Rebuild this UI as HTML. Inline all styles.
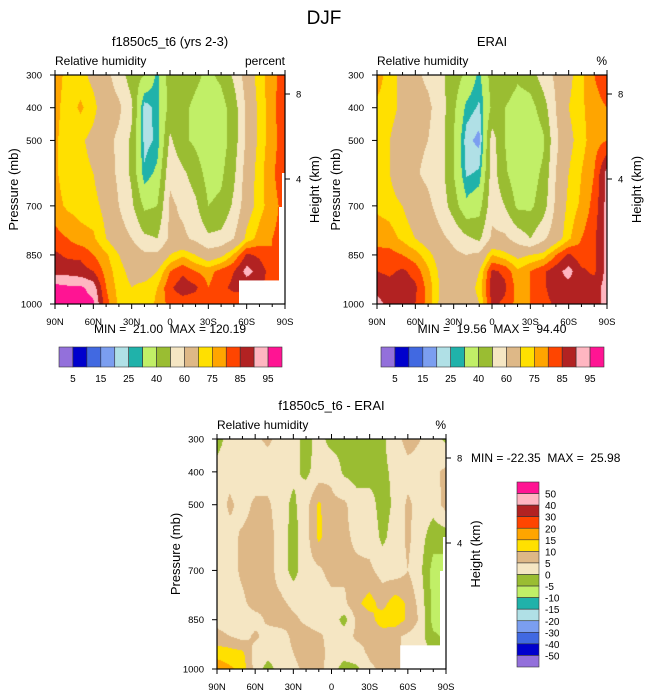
<!DOCTYPE html>
<html><head><meta charset="utf-8">
<style>
body{margin:0;background:#fff;width:648px;height:694px;overflow:hidden;position:relative;font-family:"Liberation Sans",sans-serif}
canvas{position:absolute}
svg{position:absolute;left:0;top:0}
text{font-family:"Liberation Sans",sans-serif;fill:#000;white-space:pre}
</style></head><body>
<canvas id="c1" style="left:55px;top:75px" width="230" height="229"></canvas>
<canvas id="c2" style="left:377px;top:75px" width="230" height="229"></canvas>
<canvas id="c3" style="left:217px;top:439px" width="229" height="230"></canvas>
<svg id="ov" width="648" height="694"></svg>
<script>
// ---- data ----
const lats = ["90N","80N","70N","60N","50N","40N","30N","20N","10N","0","10S","20S","30S","40S","50S","60S","70S","80S","90S"];
const pressureLevels = [300,400,500,600,700,800,850,900,950,1000];
const latTickLabels = ["90N","60N","30N","0","30S","60S","90S"];
const pTickLabels = [300,400,500,700,850,1000];
const rhLevels = [5,10,15,20,25,30,40,50,60,70,75,80,85,90,95];
const rhLabels = ["5","15","25","40","60","75","85","95"];
const diffLevels = [-50,-40,-30,-20,-15,-10,-5,0,5,10,15,20,30,40,50];
const diffLabels = ["50","40","30","20","15","10","5","0","-5","-10","-15","-20","-30","-40","-50"];
const palette = ["#9370db","#0000cd","#4169e1","#7b9ef0","#b0e0e6","#20b2aa","#c1ef67","#9abd32","#f5e6c3","#deb887","#ffe000","#ffa500","#ff4500","#b22222","#ffb6c1","#ff1493"];
const modelRH = [
 [78,73,72,68,63,55,45,40,28,45,45,42,38,42,52,65,73,78,83],
 [77,72,76,72,65,62,52,22,27,44,42,38,35,36,45,62,72,78,85],
 [76,72,71,68,63,58,48,23,26,52,42,38,33,35,45,62,72,78,83],
 [76,72,72,70,65,58,48,26,32,58,52,45,36,38,48,65,73,79,84],
 [77,74,73,72,68,60,52,38,40,62,58,52,40,42,52,66,73,78,82],
 [82,80,77,76,70,65,60,52,50,62,62,58,52,53,60,72,77,80,82],
 [86,84,84,80,76,70,66,62,62,70,74,70,65,68,76,86,84,80,82],
 [88,88,87,85,78,72,68,66,70,80,84,80,78,82,85,92,88,82,82],
 [97,96,96,93,80,73,70,72,75,84,88,86,80,84,86,86,86,82,82],
 [97,97,97,96,82,74,70,72,76,82,82,82,82,83,82,82,82,82,82]];
const eraiRH = [
 [77,73,68,62,58,52,45,38,28,45,48,42,45,55,62,68,74,80,84],
 [74,73,68,63,62,55,42,28,24,42,40,35,36,45,60,70,74,78,80],
 [72,70,64,62,60,54,40,22,18,55,40,30,32,38,58,68,73,78,80],
 [71,70,63,61,58,54,40,24,26,55,42,33,35,42,60,70,75,80,92],
 [74,73,70,65,62,56,45,32,36,57,50,38,38,45,62,72,76,82,92],
 [78,77,74,70,66,62,58,52,48,62,62,56,50,58,66,74,80,84,92],
 [82,82,80,77,72,66,62,60,62,75,72,68,70,72,80,86,82,84,92],
 [85,84,86,83,76,68,65,64,70,86,84,76,80,84,88,92,86,84,92],
 [88,87,88,86,78,69,66,66,72,88,86,78,80,84,88,88,86,88,92],
 [92,88,87,85,78,68,64,64,70,86,84,78,80,83,86,86,85,88,92]];
const diffRH = [
 [-2,2,3,4,6,3,2,-2,2,-2,-2,-3,-2,-1,3,7,5,2,-1],
 [2,3,2,2,2,2,1,-1,2,4,-1,-2,-2,-1,1,3,3,4,6],
 [2,6,3,6,6,2,-1,3,11,6,6,2,2,-2,1,6,3,2,7],
 [1,3,6,7,7,3,-2,3,11,7,6,4,3,-1,2,6,2,-3,-3],
 [1,3,6,8,7,3,-2,3,4,7,6,6,6,3,2,5,1,-7,-7],
 [2,3,4,7,6,6,4,3,2,3,4,9,12,8,13,9,3,-7,-8],
 [4,3,2,3,6,7,6,4,2,3,-2,6,8,13,13,9,4,-7,-8],
 [6,5,3,6,3,3,6,7,6,3,3,6,6,7,6,4,2,-4,-6],
 [13,12,11,3,2,3,5,7,7,3,2,3,6,7,6,4,2,0,0],
 [18,16,13,3,-2,2,4,6,7,2,-2,-1,4,6,6,4,2,0,0]];

function colorIdx(v, levels){let i=0;while(i<levels.length&&v>=levels[i])i++;return i;}
function drawField(id, grid, levels){
  const cv=document.getElementById(id), ctx=cv.getContext('2d');
  const W=cv.width,H=cv.height, img=ctx.createImageData(W,H);
  const pal=palette.map(h=>[parseInt(h.substr(1,2),16),parseInt(h.substr(3,2),16),parseInt(h.substr(5,2),16)]);
  const nl=lats.length;
  for(let y=0;y<H;y++){
    const p=300+(y+0.5)/H*700;
    let r=0;while(r<pressureLevels.length-2&&p>pressureLevels[r+1])r++;
    const fy=Math.min(1,Math.max(0,(p-pressureLevels[r])/(pressureLevels[r+1]-pressureLevels[r])));
    for(let x=0;x<W;x++){
      const gx=(x+0.5)/W*(nl-1);let c=Math.min(nl-2,Math.floor(gx));const fx=gx-c;
      const v=(grid[r][c]*(1-fx)+grid[r][c+1]*fx)*(1-fy)+(grid[r+1][c]*(1-fx)+grid[r+1][c+1]*fx)*fy;
      const col=pal[colorIdx(v,levels)];const k=(y*W+x)*4;
      img.data[k]=col[0];img.data[k+1]=col[1];img.data[k+2]=col[2];img.data[k+3]=255;
    }
  }
  ctx.putImageData(img,0,0);
}
drawField('c1',modelRH,rhLevels);
drawField('c2',eraiRH,rhLevels);
drawField('c3',diffRH,diffLevels);

const NS='http://www.w3.org/2000/svg', ov=document.getElementById('ov');
function el(tag,attrs,txt){const e=document.createElementNS(NS,tag);for(const k in attrs)e.setAttribute(k,attrs[k]);if(txt!==undefined)e.textContent=txt;ov.appendChild(e);return e;}

function axes(L,T,W,H,pref,title,unit,minmax,mask){
  if(mask){
    const m1=el('rect',{x:L+W*0.8,y:T+H*(928-300)/700,width:W*0.2,height:H-H*(928-300)/700,fill:'#fff'});
    
    
    const m2=el('polygon',{points:`${L+W-3},${T+98} ${L+W},${T+98} ${L+W},${T+H} ${L+W-6},${T+H} ${L+W-6},${T+132} ${L+W-3},${T+132}`,fill:'#fff'});
    
    
  }
  const fr=el('rect',{x:L,y:T,width:W,height:H,fill:'none',stroke:'#000','stroke-width':1.2});
  
  
  const t=el('text',{x:L+W/2,y:T-29,'font-size':13,'text-anchor':'middle'},title);
  
  
  const s=el('text',{x:L,y:T-10,'font-size':12},'Relative humidity');
  
  
  const u=el('text',{x:L+W,y:T-10,'font-size':12,'text-anchor':'end'},unit);
  
  
  for(let i=0;i<lats.length;i++){
    const x=L+i/(lats.length-1)*W;const major=i%3===0;
    el('line',{x1:x,y1:T,x2:x,y2:T+(major?-5:-3),stroke:'#000','stroke-width':1});
    el('line',{x1:x,y1:T+H,x2:x,y2:T+H+(major?5:3),stroke:'#000','stroke-width':1});
  }
  latTickLabels.forEach((lb,i)=>{
    const tl=el('text',{x:L+i/(latTickLabels.length-1)*W,y:T+H+21,'font-size':9.5,'text-anchor':'middle'},lb);
    
    
  });
  pTickLabels.forEach(p=>{
    const y=T+(p-300)/700*H;
    el('line',{x1:L,y1:y,x2:L-5,y2:y,stroke:'#000','stroke-width':1});
    const tl=el('text',{x:L-13,y:y+3.5,'font-size':9.5,'text-anchor':'end'},String(p));
    
    
  });
  [[8,94-75],[4,179-75]].forEach(([h,dy])=>{
    el('line',{x1:L+W,y1:T+dy,x2:L+W+5,y2:T+dy,stroke:'#000','stroke-width':1});
    const tl=el('text',{x:L+W+11,y:T+dy+3.5,'font-size':9.5},String(h));
    
    
  });
  const yl=el('text',{transform:`translate(${L-37},${T+H/2}) rotate(-90)`,'font-size':13,'text-anchor':'middle'},'Pressure (mb)');
  
  
  const hl=el('text',{transform:`translate(${L+W+34},${T+H/2}) rotate(-90)`,'font-size':13,'text-anchor':'middle'},'Height (km)');
  
  
  if(minmax){
    const mm=el('text',{x:minmax[0],y:minmax[1],'font-size':12,'text-anchor':minmax[3]||'middle'},minmax[2]);
    
    
  }
}
axes(55,75,230,229,'model','f1850c5_t6 (yrs 2-3)','percent',[170,333,'MIN =  21.00  MAX = 120.19'],true);
axes(377,75,230,229,'erai','ERAI','%',[492,333,'MIN =  19.56  MAX =  94.40'],false);
axes(217,439,229,230,'diff','f1850c5_t6 - ERAI','%',[471,462,'MIN = -22.35  MAX =  25.98','start'],true);

const dj=el('text',{x:324,y:24,'font-size':19,'text-anchor':'middle'},'DJF');



function hbar(L,pref){
  const w=(282-59)/16;
  palette.forEach((c,i)=>{
    const r=el('rect',{x:L+i*w,y:347,width:w,height:20,fill:c,stroke:'#333','stroke-width':0.6});
    
    
  });
  rhLabels.forEach((lb,i)=>{
    const t=el('text',{x:L+(2*i+1)*w,y:382,'font-size':10,'text-anchor':'middle'},lb);
    
    
  });
}
hbar(59,'model');hbar(381,'erai');
const vh=(667-482)/16;
palette.slice().reverse().forEach((c,i)=>{
  const r=el('rect',{x:517,y:482+i*vh,width:22,height:vh,fill:c,stroke:'#333','stroke-width':0.6});
  
  
});
diffLabels.forEach((lb,i)=>{
  const t=el('text',{x:545,y:482+(i+1)*vh+4,'font-size':10},lb);
  
  
});
</script>
</body></html>
